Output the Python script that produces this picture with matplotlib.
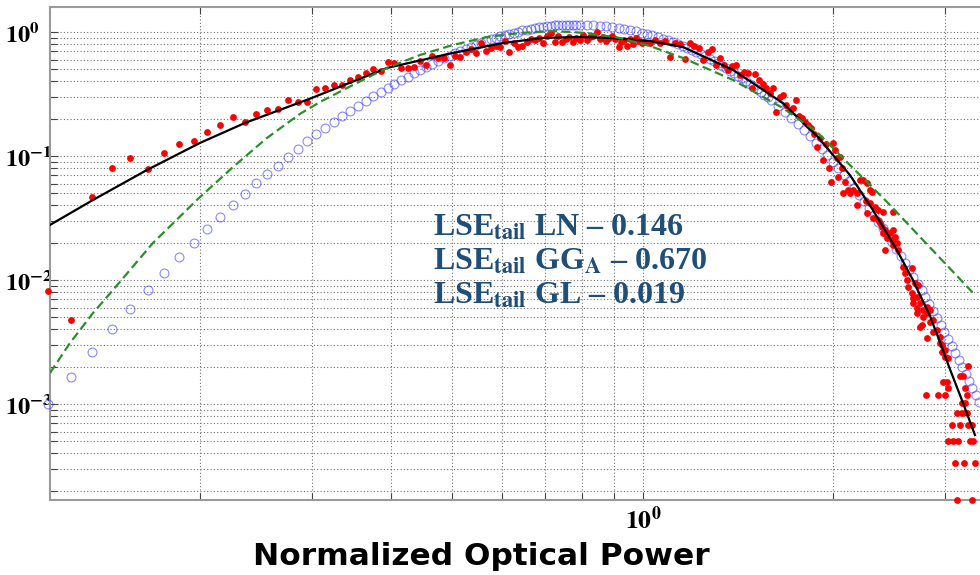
import matplotlib
matplotlib.use('Agg')
import matplotlib.pyplot as plt
import numpy as np
from matplotlib.ticker import FixedLocator, LogLocator, NullFormatter

plt.rcParams['mathtext.fontset'] = 'stix'

# simulated pdf (blue open circles)
blue_x = [
    0.115, 0.125, 0.135, 0.145, 0.155, 0.165, 0.175, 0.185, 0.195, 0.205,
    0.215, 0.225, 0.235, 0.245, 0.255, 0.265, 0.275, 0.285, 0.295, 0.305,
    0.315, 0.325, 0.335, 0.345, 0.355, 0.365, 0.375, 0.385, 0.395, 0.405,
    0.415, 0.425, 0.435, 0.445, 0.455, 0.465, 0.475, 0.485, 0.495, 0.505,
    0.515, 0.525, 0.535, 0.545, 0.555, 0.565, 0.575, 0.585, 0.595, 0.605,
    0.615, 0.625, 0.635, 0.645, 0.655, 0.665, 0.675, 0.685, 0.695, 0.705,
    0.715, 0.725, 0.735, 0.745, 0.755, 0.765, 0.775, 0.785, 0.795,
    0.815, 0.835, 0.855, 0.875, 0.895, 0.915, 0.935, 0.955, 0.975, 0.995,
    1.015, 1.035, 1.055, 1.075, 1.095, 1.115, 1.135, 1.155, 1.175, 1.195,
    1.215, 1.235, 1.255, 1.275, 1.295, 1.315, 1.335, 1.355, 1.375, 1.395,
    1.415, 1.435, 1.455, 1.475, 1.495, 1.515, 1.535, 1.555, 1.575, 1.595,
    1.635, 1.675, 1.715, 1.755, 1.795, 1.835, 1.875, 1.915, 1.955, 1.995,
    2.035, 2.075, 2.115, 2.155, 2.195, 2.235, 2.275, 2.315, 2.355, 2.395,
    2.435, 2.475, 2.515, 2.555, 2.595, 2.635, 2.675, 2.715, 2.755, 2.795,
    2.835, 2.875, 2.915, 2.955, 2.995, 3.035, 3.075, 3.115, 3.155, 3.195,
    3.235, 3.275, 3.315, 3.355, 3.395]
blue_y = [
    0.00100, 0.00165, 0.00262, 0.00403, 0.00583, 0.00830, 0.01138, 0.01531, 0.01986, 0.02576,
    0.0322, 0.0403, 0.0494, 0.0605, 0.0716, 0.0830, 0.0982, 0.1138, 0.1321, 0.1503,
    0.1683, 0.1881, 0.2088, 0.2308, 0.2536, 0.2775, 0.3020, 0.3276, 0.3538, 0.3807,
    0.408, 0.4364, 0.4648, 0.494, 0.5232, 0.5532, 0.583, 0.613, 0.643, 0.674,
    0.704, 0.733, 0.762, 0.791, 0.818, 0.845, 0.872, 0.897, 0.921, 0.945,
    0.968, 0.989, 1.009, 1.029, 1.046, 1.062, 1.077, 1.091, 1.103, 1.113,
    1.121, 1.129, 1.135, 1.140, 1.143, 1.145, 1.146, 1.146, 1.144,
    1.139, 1.132, 1.121, 1.108, 1.093, 1.076, 1.056, 1.035, 1.013, 0.989,
    0.964, 0.938, 0.912, 0.885, 0.857, 0.829, 0.802, 0.774, 0.746, 0.719,
    0.691, 0.664, 0.638, 0.611, 0.585, 0.561, 0.536, 0.512, 0.489, 0.466,
    0.445, 0.424, 0.404, 0.384, 0.366, 0.347, 0.330, 0.313, 0.297, 0.282,
    0.2532, 0.2269, 0.2030, 0.1814, 0.1619, 0.1443, 0.1284, 0.1141, 0.1014, 0.0900,
    0.0797, 0.0706, 0.0625, 0.0553, 0.0488, 0.0431, 0.0380, 0.0336, 0.0296, 0.0261,
    0.0230, 0.0202, 0.0178, 0.01567, 0.0138, 0.01213, 0.01067, 0.00937, 0.00825, 0.00725,
    0.00636, 0.00560, 0.00492, 0.00433, 0.00380, 0.00333, 0.00293, 0.00257, 0.00226, 0.00199,
    0.00174, 0.00153, 0.00135, 0.00118, 0.00104]

# measured histogram (red dots)
red_x = [
    0.115, 0.125, 0.135, 0.145, 0.155, 0.165, 0.175, 0.185, 0.195, 0.205,
    0.215, 0.225, 0.235, 0.245, 0.255, 0.265, 0.275, 0.285, 0.295, 0.305,
    0.315, 0.325, 0.335, 0.345, 0.355, 0.365, 0.375, 0.385, 0.395, 0.405,
    0.415, 0.425, 0.435, 0.445, 0.455, 0.465, 0.475, 0.485, 0.495, 0.505,
    0.515, 0.525, 0.535, 0.545, 0.555, 0.565, 0.575, 0.585, 0.595, 0.605,
    0.615, 0.625, 0.635, 0.645, 0.655, 0.665, 0.675, 0.685, 0.695, 0.705,
    0.715, 0.725, 0.735, 0.745, 0.755, 0.765, 0.775, 0.785, 0.795, 0.805,
    0.815, 0.825, 0.835, 0.845, 0.855, 0.865, 0.875, 0.885, 0.895, 0.905,
    0.915, 0.925, 0.935, 0.945, 0.955, 0.965, 0.975, 0.985, 0.995,
    1.005, 1.025, 1.045, 1.065, 1.085, 1.105, 1.125, 1.145, 1.165, 1.185,
    1.205, 1.225, 1.245, 1.265, 1.285, 1.305, 1.325, 1.345, 1.365, 1.385,
    1.405, 1.425, 1.445, 1.465, 1.485, 1.505, 1.525, 1.545, 1.565, 1.585,
    1.605, 1.625, 1.645, 1.665, 1.685, 1.705, 1.725, 1.745, 1.765, 1.785,
    1.805, 1.825, 1.845, 1.865, 1.885, 1.905, 1.925, 1.945, 1.965, 1.985]
red_y = [
    0.0082, 0.0048, 0.0467, 0.0800, 0.0964, 0.0786, 0.1057, 0.1250, 0.1320, 0.1560,
    0.178, 0.206, 0.188, 0.218, 0.235, 0.239, 0.283, 0.272, 0.272, 0.347,
    0.353, 0.374, 0.374, 0.410, 0.434, 0.467, 0.503, 0.485, 0.573, 0.562,
    0.513, 0.513, 0.522, 0.584, 0.542, 0.641, 0.617, 0.617, 0.542, 0.641,
    0.629, 0.690, 0.729, 0.677, 0.815, 0.703, 0.743, 0.771, 0.757, 0.846,
    0.690, 0.815, 0.757, 0.771, 0.831, 0.878, 0.862, 0.895, 0.815, 0.928,
    0.982, 0.831, 0.928, 0.831, 0.878, 0.911, 0.831, 0.895, 0.862, 0.946,
    0.862, 0.911, 0.928, 1.000, 0.878, 0.911, 0.846, 0.895, 0.928, 0.878,
    0.757, 0.831, 0.862, 0.771, 0.878, 0.800, 0.895, 0.846, 0.815,
    0.831, 0.815, 0.862, 0.815, 0.846, 0.629, 0.815, 0.800, 0.606, 0.815,
    0.771, 0.743, 0.595, 0.690, 0.729, 0.542, 0.617, 0.542, 0.494, 0.532,
    0.542, 0.450, 0.476, 0.467, 0.354, 0.458, 0.410, 0.381, 0.354, 0.322,
    0.354, 0.226, 0.299, 0.311, 0.258, 0.235, 0.244, 0.283, 0.210, 0.203,
    0.188, 0.178, 0.168, 0.151, 0.118, 0.140, 0.093, 0.125, 0.080, 0.062]

# measured tail (red dots, sparse counts)
tail_x = [
    1.996, 2.011, 2.025, 2.048, 2.063, 2.033, 2.085, 2.108, 2.147, 2.070,
    2.123, 2.179, 2.202, 2.227, 2.259, 2.284, 2.300, 2.179, 2.251, 2.284,
    2.325, 2.351, 2.394, 2.483, 2.259, 2.308, 2.351, 2.368, 2.385, 2.411,
    2.456, 2.483, 2.501, 2.394, 2.429, 2.474, 2.519, 2.528, 2.411, 2.483,
    2.575, 2.661, 2.594, 2.613, 2.622, 2.661, 2.690, 2.720, 2.670, 2.710,
    2.670, 2.710, 2.769, 2.740, 2.810, 2.841, 2.810, 2.710, 2.760, 2.740,
    2.769, 2.841, 2.872, 2.872, 2.914, 2.946, 2.810, 2.946, 2.968, 2.968,
    3.000, 3.000, 3.033, 3.262, 3.168, 3.203, 2.978, 3.022, 3.033, 3.226,
    2.800, 2.924, 3.000, 3.250, 3.191, 3.226, 3.134, 3.191, 3.250, 3.077,
    3.168, 3.262, 3.309, 3.033, 3.088, 3.145, 3.285, 3.321, 3.111, 3.215,
    3.346, 3.134, 3.309]
tail_y = [
    0.1273, 0.1118, 0.0963, 0.0981, 0.0800, 0.0677, 0.0617, 0.0532, 0.0532, 0.0503,
    0.0503, 0.0503, 0.0640, 0.0640, 0.0606, 0.0532, 0.0513, 0.0402, 0.0434, 0.0418,
    0.0388, 0.0367, 0.0354, 0.0354, 0.0347, 0.0316, 0.0305, 0.0288, 0.0268, 0.0253,
    0.0239, 0.0253, 0.0222, 0.0239, 0.0218, 0.0210, 0.0199, 0.0175, 0.0175, 0.0192,
    0.0127, 0.0125, 0.0114, 0.0100, 0.00878, 0.00786, 0.00946, 0.00912, 0.00716, 0.00729,
    0.00652, 0.00594, 0.00573, 0.00652, 0.00606, 0.00573, 0.00542, 0.00542, 0.00434, 0.00418,
    0.00503, 0.00458, 0.00476, 0.00381, 0.00395, 0.00347, 0.00340, 0.00310, 0.00299, 0.00263,
    0.00273, 0.00239, 0.00235, 0.00202, 0.00168, 0.00168, 0.00151, 0.00151, 0.00134, 0.00134,
    0.00118, 0.00118, 0.00118, 0.00118, 0.00101, 0.00101, 0.00084, 0.00084, 0.00084, 0.000672,
    0.000672, 0.000672, 0.000672, 0.000504, 0.000504, 0.000504, 0.000504, 0.000504, 0.000336, 0.000336,
    0.000336, 0.000168, 0.000168]

# GL fit (black line)
gl_x = [0.1157, 0.1353, 0.1646, 0.1996, 0.2350, 0.2999, 0.3941, 0.5010, 0.6008,
        0.6951, 0.7953, 0.8869, 1.026, 1.157, 1.388, 1.664, 1.890, 2.123, 2.308,
        2.519, 2.670, 2.841, 2.946, 3.055, 3.191, 3.346]
gl_y = [0.0278, 0.0442, 0.0771, 0.1274, 0.1845, 0.2938, 0.5129, 0.6776, 0.8147,
        0.8954, 0.912, 0.8954, 0.8453, 0.7568, 0.4943, 0.2673, 0.1422, 0.0703, 0.0367,
        0.01746, 0.0100, 0.00513, 0.00316, 0.00191, 0.001076, 0.000562]

# GG_A fit (green dashed line)
gga_x = [0.1157, 0.1244, 0.1353, 0.1455, 0.1682, 0.1974, 0.2251, 0.2547, 0.2871,
         0.3088, 0.3482, 0.3941, 0.4444, 0.5010, 0.5670, 0.6393, 0.7209, 0.8156,
         0.9198, 1.026, 1.157, 1.388, 1.664, 1.884, 2.123, 2.430, 2.769, 3.146, 3.346]
gga_y = [0.00178, 0.0031, 0.00542, 0.0083, 0.01986, 0.0442, 0.0815, 0.1397, 0.2183,
         0.2723, 0.374, 0.5129, 0.6523, 0.7857, 0.9113, 0.9815, 1.019, 0.9815,
         0.8946, 0.7712, 0.617, 0.410, 0.2438, 0.156, 0.0846, 0.0426, 0.02103, 0.01057, 0.00757]

lse_lines = [r'LSE$_{\mathbf{tail}}$ LN – 0.146',
             r'LSE$_{\mathbf{tail}}$ GG$_{\mathbf{A}}$ – 0.670',
             r'LSE$_{\mathbf{tail}}$ GL – 0.019']

W, H = 980, 575
fig = plt.figure(figsize=(W / 100, H / 100), dpi=100)
ax = fig.add_axes([50 / W, 75 / H, 930 / W, 493 / H])
ax.set_xscale('log')
ax.set_yscale('log')

ax.plot(blue_x, blue_y, 'o', mfc='none', mec='#3c3cff', mew=0.8, ms=6.4,
        alpha=0.6, clip_on=False, zorder=3)
ax.plot(red_x, red_y, 'o', color='#ff0000', mew=0, ms=4.9, clip_on=False, zorder=4)
ax.plot(tail_x, tail_y, 'o', color='#ff0000', mew=0, ms=4.9, clip_on=False, zorder=4)
ax.plot(gl_x, gl_y, color='black', lw=1.6, zorder=5)
ax.plot(gga_x, gga_y, color='#2a8f2a', lw=1.6, ls=(0, (4, 2)), zorder=6)

ax.set_xlim(0.1157, 3.408)
ax.set_ylim(1.682e-4, 1.591)

ax.xaxis.set_major_locator(FixedLocator([1]))
ax.xaxis.set_minor_locator(LogLocator(base=10, subs=np.arange(2, 10)))
ax.xaxis.set_minor_formatter(NullFormatter())
ax.set_xticklabels([r'$\mathbf{10^{0}}$'])
ax.yaxis.set_major_locator(FixedLocator([1e-3, 1e-2, 1e-1, 1]))
ax.yaxis.set_minor_locator(LogLocator(base=10, subs=np.arange(2, 10)))
ax.yaxis.set_minor_formatter(NullFormatter())
ax.set_yticklabels([r'$\mathbf{10^{-3}}$', r'$\mathbf{10^{-2}}$',
                    r'$\mathbf{10^{-1}}$', r'$\mathbf{10^{0}}$'])

ax.tick_params(which='both', direction='in', top=True, right=False,
               color='#444444', width=0.8, labelsize=18.5)
ax.tick_params(which='major', length=6)
ax.tick_params(which='minor', length=5)
ax.tick_params(axis='y', labelsize=17.5, pad=32.5)
ax.tick_params(axis='x', pad=5)
# labels start at a fixed left edge, like the original
for lab in ax.get_yticklabels():
    lab.set_horizontalalignment('left')

ax.grid(True, which='both', ls=(0, (1, 2)), color='#707070', lw=0.8)
ax.set_axisbelow(True)
for side in ['left', 'bottom', 'top']:
    ax.spines[side].set_color('#9a9a9a')
    ax.spines[side].set_linewidth(1.5)
ax.spines['right'].set_visible(False)

fig.text(481 / W, 1 - 565 / H, 'Normalized Optical Power', ha='center',
         va='baseline', fontsize=22.5, fontweight='bold', family='DejaVu Sans')

for i, txt in enumerate(lse_lines):
    fig.text(433 / W, 1 - (236 + 34 * i) / H, txt, ha='left', va='baseline',
             fontsize=23, fontweight='bold', family='Liberation Serif',
             color='#1f4e79')

fig.savefig('out.png', dpi=100)
